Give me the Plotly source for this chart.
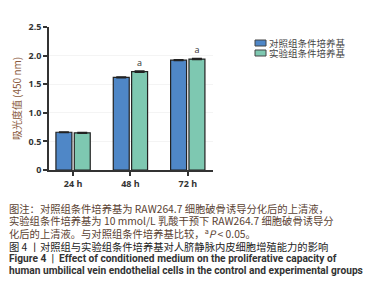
import plotly.graph_objects as go

categories = ["24 h", "48 h", "72 h"]
control_vals = [0.66, 1.62, 1.92]
exp_vals = [0.65, 1.72, 1.94]
control_err = [0.008, 0.01, 0.01]
exp_err = [0.008, 0.012, 0.012]
exp_marks = ["", "a", "a"]
series_names = ["对照组条件培养基", "实验组条件培养基"]
series_colors = ["#4f87c7", "#7ec8b1"]
y_ticks = [0, 0.5, 1.0, 1.5, 2.0, 2.5]
y_ticklabels = ["0", "0.5", "1.0", "1.5", "2.0", "2.5"]

caption_lines = [
    "图注：对照组条件培养基为 RAW264.7 细胞破骨诱导分化后的上清液，",
    "实验组条件培养基为 10 mmol/L 乳酸干预下 RAW264.7 细胞破骨诱导分",
    "化后的上清液。与对照组条件培养基比较，<sup>a</sup><i>P</i> < 0.05。",
]
fig_title_cn = "图 4 丨对照组与实验组条件培养基对人脐静脉内皮细胞增殖能力的影响"
fig_title_en = [
    "<b>Figure 4  |  Effect of conditioned medium on the proliferative capacity of</b>",
    "<b>human umbilical vein endothelial cells in the control and experimental groups</b>",
]

# layout helpers (pixel -> paper)
L, T, W, H = 49, 27, 164, 143
def px(x):
    return (x - L) / W
def py(y):
    return 1 - (y - T) / H

fig = go.Figure()
fig.add_trace(go.Bar(
    x=categories, y=control_vals, name=series_names[0],
    marker=dict(color=series_colors[0], line=dict(color="#222222", width=1.2)),
    error_y=dict(type="data", array=control_err, color="#222222", thickness=1.2, width=5),
))
fig.add_trace(go.Bar(
    x=categories, y=exp_vals, name=series_names[1],
    marker=dict(color=series_colors[1], line=dict(color="#222222", width=1.2)),
    error_y=dict(type="data", array=exp_err, color="#222222", thickness=1.2, width=5),
    text=exp_marks, textposition="outside", cliponaxis=False,
    textfont=dict(family="Open Sans, Arial", size=9, color="#333333"),
))

fig.update_layout(
    width=376, height=300,
    margin=dict(l=L, r=376 - L - W, t=T, b=300 - T - H, autoexpand=False),
    paper_bgcolor="white", plot_bgcolor="white",
    barmode="group", bargap=0.36, bargroupgap=0.13,
    showlegend=False,
    font=dict(family="Open Sans, Noto Sans CJK SC", size=9, color="#333333"),
)
fig.update_xaxes(
    range=[-0.42, 2.44], showline=True, linecolor="#333333", linewidth=1.5,
    ticks="outside", ticklen=4, tickwidth=1.5, tickcolor="#333333",
    tickfont=dict(family="Open Sans", size=9, color="#333333", weight="bold"),
    showgrid=False, zeroline=False, automargin=False,
)
fig.update_yaxes(
    range=[0, 2.5], tickvals=y_ticks, ticktext=y_ticklabels,
    showline=True, linecolor="#333333", linewidth=1.5,
    ticks="outside", ticklen=4, tickwidth=1.5, tickcolor="#333333",
    tickfont=dict(family="Open Sans", size=9, color="#333333", weight="bold"),
    showgrid=True, gridcolor="#f4f4f4", zeroline=False, automargin=False,
    title=dict(text="吸光度值 (450 nm)", standoff=5,
               font=dict(family="Noto Sans CJK SC", size=10, color="#8a5a3c")),
)

# custom compact legend
legend_y = [43, 53]
for name, color, yy in zip(series_names, series_colors, legend_y):
    fig.add_shape(type="rect", xref="paper", yref="paper",
                  x0=px(255), x1=px(266), y0=py(yy - 3), y1=py(yy + 3),
                  fillcolor=color, line=dict(color="#444444", width=1))
    fig.add_annotation(text=name, xref="paper", yref="paper", x=px(267), y=py(yy),
                       xanchor="left", yanchor="middle", showarrow=False,
                       font=dict(family="Noto Sans CJK SC", size=9.5, color="#444444"))

note_color = "#5a4232"
line_y = [208, 220.5, 233, 246, 258, 270.5]
for i, line in enumerate(caption_lines):
    fig.add_annotation(text=line, xref="paper", yref="paper", x=px(7), y=py(line_y[i]),
                       xanchor="left", yanchor="middle", showarrow=False, align="left",
                       font=dict(family="Noto Sans CJK SC", size=10.3, color=note_color))
fig.add_annotation(text=fig_title_cn, xref="paper", yref="paper", x=px(7), y=py(line_y[3]),
                   xanchor="left", yanchor="middle", showarrow=False, align="left",
                   font=dict(family="Noto Sans CJK SC", size=10.3, color="#222222"))
for j, line in enumerate(fig_title_en):
    fig.add_annotation(text=line, xref="paper", yref="paper", x=px(7), y=py(line_y[4 + j]),
                       xanchor="left", yanchor="middle", showarrow=False, align="left",
                       font=dict(family="Liberation Sans Narrow, Roboto", size=10.2, color="#333333"))

fig.write_html("out.html", config={"displayModeBar": False},
               post_script="document.body.style.margin='0';document.body.style.overflow='hidden';")
